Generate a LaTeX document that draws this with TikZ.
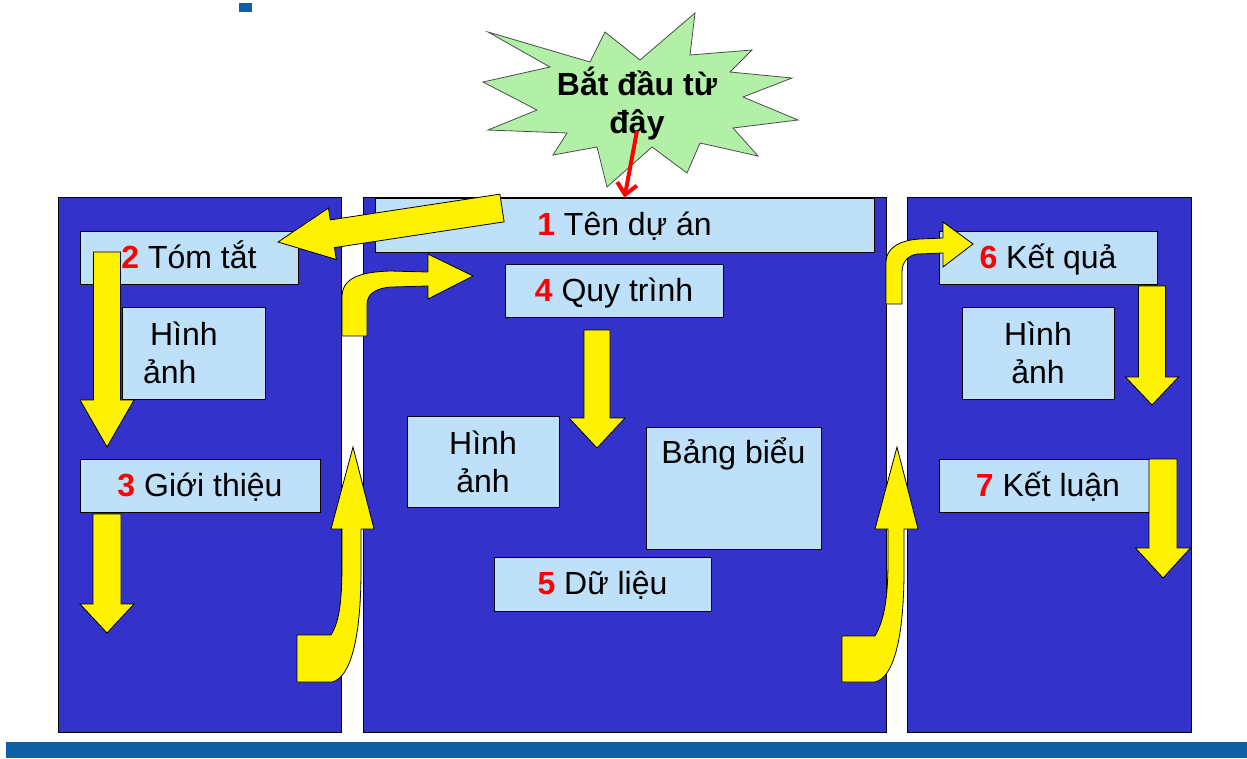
\documentclass[tikz,border=0pt]{standalone}
\usepackage{fontspec}
\setmainfont{Liberation Sans}
\usetikzlibrary{calc,arrows.meta}
\definecolor{panelblue}{RGB}{51,51,204}
\definecolor{boxblue}{RGB}{190,224,248}
\definecolor{burstgreen}{RGB}{178,240,168}
\definecolor{barblue}{RGB}{16,96,168}
\newcommand{\rednum}[1]{\textcolor{red}{\bfseries #1}}
% straight block arrow: tail, tip, half shaft, half head, head length
\newcommand{\blockarr}[5]{%
  \path #1 coordinate (ba-a) #2 coordinate (ba-b);
  \coordinate (ba-c) at ($(ba-b)!#5pt!(ba-a)$);
  \draw[yarrow] ($(ba-a)!#3pt!90:(ba-b)$) -- ($(ba-c)!#3pt!90:(ba-b)$)
    -- ($(ba-c)!#4pt!90:(ba-b)$) -- (ba-b) -- ($(ba-c)!#4pt!-90:(ba-b)$)
    -- ($(ba-c)!#3pt!-90:(ba-b)$) -- ($(ba-a)!#3pt!-90:(ba-b)$) -- cycle;}

\begin{document}
\begin{tikzpicture}[x=1pt,y=-1pt,
  panel/.style={draw=black,fill=panelblue,line width=0.8pt},
  box/.style={draw=black,fill=boxblue,line width=0.8pt,inner sep=0pt,
    font=\fontsize{32}{38}\selectfont},
  oneline/.style={box,text height=24pt,text depth=3pt},
  yarrow/.style={draw=black,fill=yellow,line width=0.8pt},
  redarr/.style={draw=red,line width=4pt,-{Straight Barb[length=11pt,width=20pt,line width=4pt]}}]
  \useasboundingbox (0,0) rectangle (1247,758);
  % title mark and footer bar
  \fill[barblue] (239,3) rectangle (252,12);
  \fill[barblue] (6,742) rectangle (1247,758);
  % three columns
  \draw[panel] (58,197) rectangle (341,732);
  \draw[panel] (363,197) rectangle (886,732);
  \draw[panel] (907,197) rectangle (1191,732);

  % left column
  \node[oneline,minimum width=218pt,minimum height=53pt] (tomtat) at (189,257.5) {\rednum{2} Tóm tắt};
  \node[box,minimum width=143pt,minimum height=92pt,text width=101pt,inner xsep=21pt,align=left]
    (hinhanhA) at (193.5,353) {\hspace*{7pt}Hình\\ảnh};
  \node[oneline,minimum width=240pt,minimum height=53pt] (gioithieu) at (200,485.5) {\rednum{3} Giới thiệu};

  % middle column
  \node[oneline,minimum width=499pt,minimum height=54pt] (tenduan) at (624.5,225) {\rednum{1} Tên dự án};
  \node[oneline,minimum width=218pt,minimum height=53pt] (quytrinh) at (614,290.5) {\rednum{4} Quy trình};
  \node[box,minimum width=152pt,minimum height=91pt,align=center] (hinhanhB) at (483,461.5) {Hình\\ảnh};
  \node[box,minimum width=175pt,text height=26pt,text depth=76pt,inner ysep=10pt,anchor=north]
    (bangbieu) at (733.5,427) {Bảng biểu};
  \node[oneline,minimum width=217pt,minimum height=54pt] (dulieu) at (602.5,584) {\rednum{5} Dữ liệu};

  % right column
  \node[oneline,minimum width=218pt,minimum height=53pt] (ketqua) at (1048,257.5) {\rednum{6} Kết quả};
  \node[box,minimum width=152pt,minimum height=92pt,align=center] (hinhanhC) at (1038,353) {Hình\\ảnh};
  \node[oneline,minimum width=218pt,minimum height=53pt] (ketluan) at (1048,485.5) {\rednum{7} Kết luận};

  % starting burst
  \draw[fill=burstgreen,draw=black!70,line width=0.8pt]
    (488,32) -- (590,62) -- (605,32) -- (640,60) -- (695,13) -- (690,55)
    -- (752,50) -- (730,72) -- (792,78) -- (743,97) -- (798,120) -- (733,128)
    -- (758,156) -- (700,143) -- (687,173) -- (652,147) -- (607,187) -- (597,147)
    -- (553,155) -- (567,133) -- (488,130) -- (537,110) -- (483,82) -- (550,67) -- cycle;
  \node[font=\fontsize{32}{38}\selectfont\bfseries,align=center,inner sep=0pt] (start) at (637,104) {Bắt đầu từ\\đây};
  \draw[redarr] ([yshift=10pt]start.south) -- (tenduan.north);

  % straight yellow arrows
  \blockarr{(502,208)}{(278,242)}{14}{26}{55}
  \blockarr{(107,252)}{(107,447)}{13.5}{27}{47}
  \blockarr{(107,514)}{(107,633)}{14}{27}{29}
  \blockarr{(597,330)}{(597,448)}{13}{28}{30}
  \blockarr{(1152,286)}{(1152,405)}{13.5}{26.5}{28}
  \blockarr{(1163,459)}{(1163,578)}{14}{27.5}{30}

  % bent yellow arrows
  \draw[yarrow] (342,336) -- (342,297) .. controls (342,278) and (360,272) .. (390,271)
    -- (428,272) -- (428,254) -- (473,276) -- (428,299) -- (428,286) -- (392,287)
    .. controls (375,288) and (367,294) .. (367,305) -- (367,336) -- cycle;
  \draw[yarrow] (886,304) -- (886,262) .. controls (886,248) and (900,240) .. (920,239)
    -- (943,238) -- (943,222) -- (973,244) -- (943,267) -- (943,253) -- (918,254)
    .. controls (908,255) and (902,262) .. (902,272) -- (902,304) -- cycle;
  \draw[yarrow] (297,635) -- (331,635) .. controls (340,620) and (342,600) .. (342,560)
    -- (342,529) -- (331,529) -- (353,447) -- (374,529) -- (361,529) -- (361,570)
    .. controls (361,640) and (350,678) .. (332,682) -- (297,682) -- cycle;
  \draw[yarrow] (842,636) -- (875,636) .. controls (884,620) and (888,600) .. (888,560)
    -- (888,529) -- (875,529) -- (897,447) -- (918,529) -- (904,529) -- (904,570)
    .. controls (904,640) and (893,678) .. (875,682) -- (842,682) -- cycle;
\end{tikzpicture}
\end{document}
